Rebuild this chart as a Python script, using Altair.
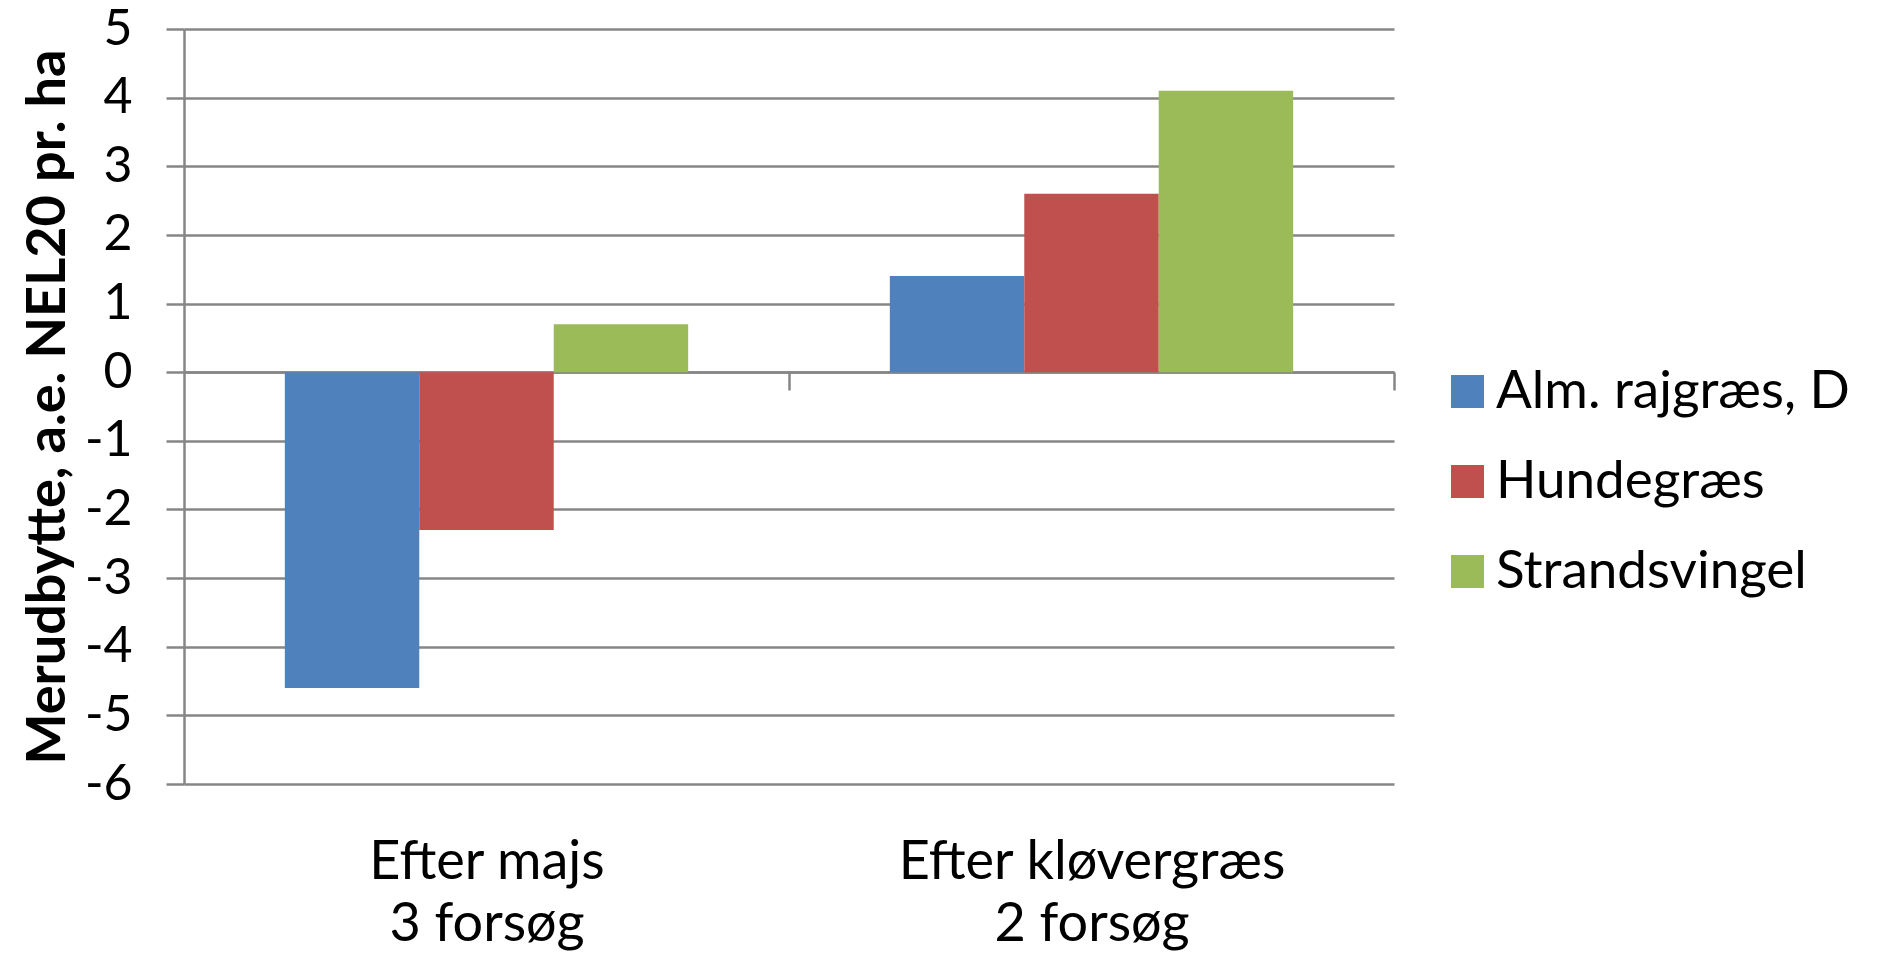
import altair as alt
import pandas as pd

categories = ["Efter majs\n3 forsøg", "Efter kløvergræs\n2 forsøg"]
series = ["Alm. rajgræs, D", "Hundegræs", "Strandsvingel"]
alm = [-4.6, 1.4]
hunde = [-2.3, 2.6]
strand = [0.7, 4.1]
colors = ["#4F81BD", "#C0504D", "#9BBB59"]
y_ticks = [-6, -5, -4, -3, -2, -1, 0, 1, 2, 3, 4, 5]

rows = []
for s, vals in zip(series, [alm, hunde, strand]):
    for c, v in zip(categories, vals):
        rows.append({"kategori": c, "serie": s, "vaerdi": v})
df = pd.DataFrame(rows)

FONT = "Lato"
GRID = "#868686"

chart = alt.Chart(df).mark_bar().encode(
    x=alt.X(
        "kategori:N", sort=categories, title=None,
        scale=alt.Scale(paddingInner=1 / 3, paddingOuter=1 / 6),
        axis=alt.Axis(
            labelAngle=0, labelExpr="split(datum.label, '\\n')", labelLimit=0,
            labelFontSize=54, labelFont=FONT, labelColor="black", labelLineHeight=62,
            labelBaseline="alphabetic",
            offset=-412, tickSize=18, tickBand="center", tickOffset=302.5, labelOffset=-302.5,
            tickColor=GRID, tickWidth=2.5,
            domainColor=GRID, domainWidth=2.5, labelPadding=488, grid=False,
        ),
    ),
    xOffset=alt.XOffset("serie:N", sort=series, scale=alt.Scale(paddingInner=0, paddingOuter=0)),
    y=alt.Y(
        "vaerdi:Q", scale=alt.Scale(domain=[-6, 5], nice=False, zero=False),
        title="Merudbytte, a.e. NEL20 pr. ha",
        axis=alt.Axis(
            values=y_ticks, labelExpr="toString(datum.value)", labelFontSize=50,
            labelFont=FONT, labelColor="black",
            labelPadding=34, tickSize=18, tickColor=GRID, tickWidth=2.5,
            domainColor=GRID, domainWidth=2.5, gridColor=GRID, gridWidth=2.5,
            titleFont=FONT, titleFontSize=54, titleFontWeight="bold", titleColor="black",
            titlePadding=9,
        ),
    ),
    color=alt.Color(
        "serie:N", sort=series, scale=alt.Scale(domain=series, range=colors),
        legend=alt.Legend(
            title=None, orient="none", legendX=1257, legendY=336, symbolType="square",
            symbolSize=1089, symbolStrokeWidth=0, symbolOpacity=1, labelFontSize=53,
            labelFont=FONT, labelColor="black", labelOffset=2, rowPadding=36, padding=0,
            labelLimit=0,
        ),
    ),
).properties(
    width=1210, height=755,
    autosize=alt.AutoSizeParams(type="none"),
    padding={"left": 176, "top": 21, "right": 472, "bottom": 168},
).configure_view(stroke=None)

chart.save("out.html", embed_options={"renderer": "svg", "actions": False})
